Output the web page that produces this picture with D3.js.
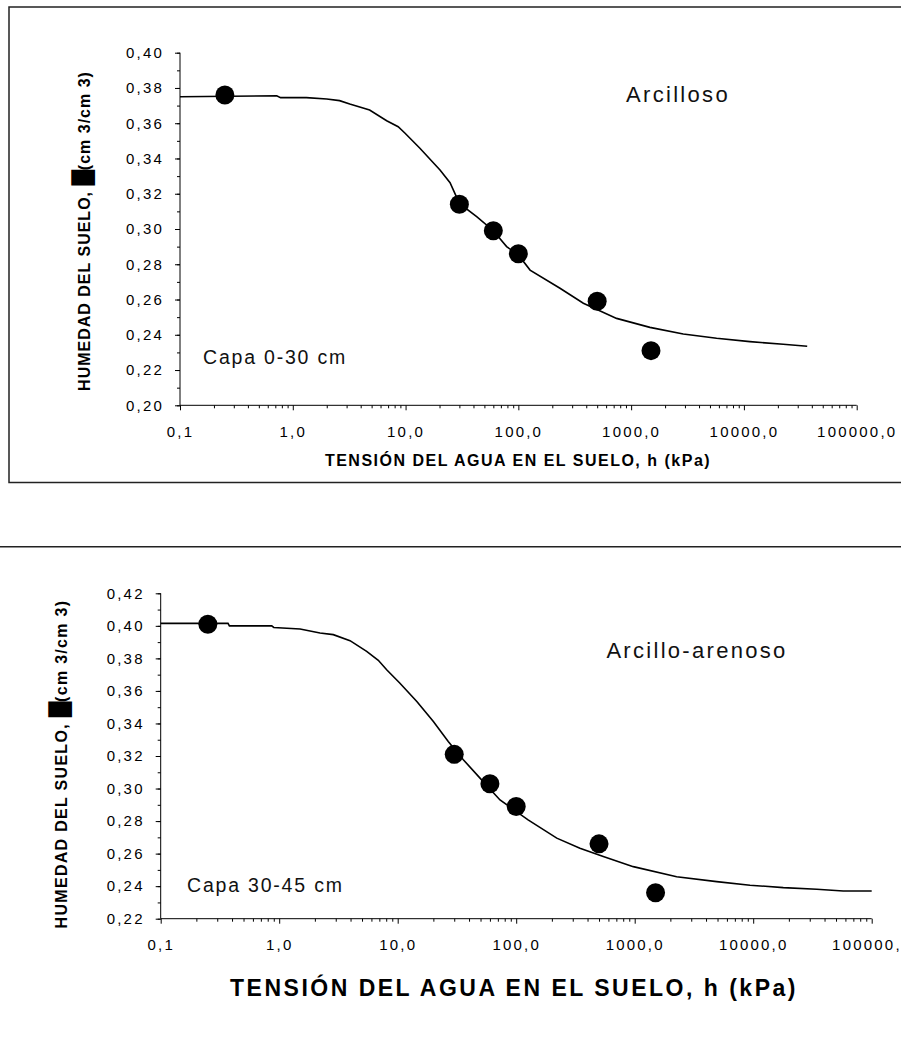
<!DOCTYPE html>
<html>
<head>
<meta charset="utf-8">
<script src="https://cdn.jsdelivr.net/npm/d3@7"></script>
<style>
  body { margin: 0; background: #fff; }
  svg { display: block; font-family: "Liberation Sans", Arial, sans-serif; }
</style>
</head>
<body>
<svg id="chart" width="901" height="1039"></svg>
<script>
// x ticks (kPa), shared by both panels
var xTicks = [0.1, 1, 10, 100, 1000, 10000, 100000];
var xTickLabels = ['0,1', '1,0', '10,0', '100,0', '1000,0', '10000,0', '100000,0'];

// top panel: Arcilloso, capa 0-30 cm
var topYTicks = [0.20, 0.22, 0.24, 0.26, 0.28, 0.30, 0.32, 0.34, 0.36, 0.38, 0.40];
var topPointsH = [0.25, 30, 60, 100, 500, 1500];
var topPointsTheta = [0.376, 0.314, 0.299, 0.286, 0.259, 0.231];
var topCurveH = [0.1, 0.72, 0.78, 1.32, 2.0, 2.6, 3.2, 4.8, 6.8, 8.6, 9.9, 13.4, 20.2, 24.8, 30, 42.7, 60, 78.7, 100, 127, 234, 377, 743, 1468, 2897, 5724, 11300, 22300, 36400];
var topCurveTheta = [0.375, 0.3756, 0.3745, 0.3745, 0.3737, 0.3728, 0.3709, 0.3675, 0.3614, 0.358, 0.3543, 0.3458, 0.3335, 0.3263, 0.3145, 0.307, 0.299, 0.290, 0.2853, 0.2767, 0.2664, 0.2579, 0.2493, 0.2442, 0.2404, 0.238, 0.2361, 0.2346, 0.2335];

// bottom panel: Arcillo-arenoso, capa 30-45 cm
var botYTicks = [0.22, 0.24, 0.26, 0.28, 0.30, 0.32, 0.34, 0.36, 0.38, 0.40, 0.42];
var botPointsH = [0.25, 30, 60, 100, 500, 1500];
var botPointsTheta = [0.401, 0.321, 0.303, 0.289, 0.266, 0.236];
var botCurveH = [0.1, 0.37, 0.38, 0.865, 0.9, 1.5, 2.21, 2.86, 3.96, 5.47, 6.86, 8.07, 10.4, 14.5, 20, 26.7, 35.8, 49.5, 73, 126, 220, 345, 543, 973, 2260, 4920, 9400, 17950, 34400, 57500, 100000];
var botCurveTheta = [0.4015, 0.4015, 0.400, 0.400, 0.399, 0.3981, 0.3956, 0.3946, 0.3909, 0.3843, 0.3788, 0.373, 0.3649, 0.3535, 0.3412, 0.3289, 0.3177, 0.3064, 0.293, 0.2807, 0.2695, 0.2633, 0.2582, 0.252, 0.2458, 0.2428, 0.2406, 0.2391, 0.2381, 0.237, 0.237];

var svg = d3.select('#chart');
var comma = function(v) { return d3.format('.2f')(v).replace('.', ','); };

// frames
svg.append('rect')
  .attr('x', 9).attr('y', 7)
  .attr('width', 1000).attr('height', 475.5)
  .attr('fill', 'none')
  .attr('stroke', '#222')
  .attr('stroke-width', 1.5);

svg.append('line')
  .attr('x1', 0).attr('x2', 901)
  .attr('y1', 546.7).attr('y2', 546.7)
  .attr('stroke', '#222')
  .attr('stroke-width', 1.5);

function drawPanel(p) {
  var x = d3.scaleLog().domain([0.1, 100000]).range([p.left, p.right]);
  var y = d3.scaleLinear().domain(p.yDomain).range([p.bottom, p.top]);
  var g = svg.append('g');

  // y axis
  var minorY = d3.range(Math.round(p.yDomain[0] * 100), Math.round(p.yDomain[1] * 100) + 1).map(d => d / 100);
  g.append('g')
    .attr('transform', 'translate(' + p.left + ',0)')
    .call(d3.axisLeft(y).tickValues(minorY).tickSize(3).tickFormat(''))
    .call(a => a.select('.domain').remove());
  var ya = g.append('g')
    .attr('transform', 'translate(' + p.left + ',0)')
    .call(d3.axisLeft(y).tickValues(p.yTicks).tickSize(5).tickPadding(11).tickFormat(comma));
  ya.select('.domain').attr('d', 'M0,' + p.bottom + 'V' + p.top);
  ya.selectAll('text')
    .attr('font-size', 15)
    .attr('letter-spacing', 2.2)
    .attr('font-family', '"Liberation Sans", Arial, sans-serif');

  // x axis
  var minorX = [];
  xTicks.slice(0, -1).forEach(function(t) {
    for (var k = 2; k <= 9; k++) minorX.push(t * k);
  });
  g.append('g')
    .attr('transform', 'translate(0,' + p.bottom + ')')
    .call(d3.axisBottom(x).tickValues(minorX).tickSize(3).tickFormat(''))
    .call(a => a.select('.domain').remove());
  var xa = g.append('g')
    .attr('transform', 'translate(0,' + p.bottom + ')')
    .call(d3.axisBottom(x).tickValues(xTicks).tickSize(5).tickPadding(16)
      .tickFormat((d, i) => xTickLabels[i]));
  xa.select('.domain').attr('d', 'M' + p.left + ',0H' + p.right);
  xa.selectAll('text')
    .attr('font-size', 15)
    .attr('letter-spacing', 2.2)
    .attr('font-family', '"Liberation Sans", Arial, sans-serif');

  g.selectAll('.tick line').attr('stroke', '#000');
  g.selectAll('.domain').attr('stroke', '#000');

  // fitted curve
  var curve = p.curveH.map((h, i) => [h, p.curveTheta[i]]);
  g.append('path')
    .datum(curve)
    .attr('fill', 'none')
    .attr('stroke', '#000')
    .attr('stroke-width', 1.6)
    .attr('d', d3.line().x(d => x(d[0])).y(d => y(d[1])));

  // measured points
  g.selectAll('circle.pt')
    .data(p.pointsH.map((h, i) => [h, p.pointsTheta[i]]))
    .enter()
    .append('circle')
    .attr('class', 'pt')
    .attr('cx', d => x(d[0]))
    .attr('cy', d => y(d[1]))
    .attr('r', 9.5)
    .attr('fill', '#000');

  // labels
  g.append('text')
    .attr('x', p.soilX).attr('y', p.soilY)
    .attr('text-anchor', 'middle')
    .attr('font-size', 22)
    .attr('letter-spacing', 2.3)
    .attr('fill', '#111')
    .text(p.soil);

  g.append('text')
    .attr('x', p.layerX).attr('y', p.layerY)
    .attr('font-size', 19.5)
    .attr('letter-spacing', 1.8)
    .attr('fill', '#111')
    .text(p.layer);

  g.append('text')
    .attr('x', p.xTitleX).attr('y', p.xTitleY)
    .attr('text-anchor', 'middle')
    .attr('font-size', p.xTitleSize)
    .attr('font-weight', 'bold')
    .attr('letter-spacing', p.xTitleSpacing)
    .text('TENSIÓN DEL AGUA EN EL SUELO, h (kPa)');

  var yt = g.append('text')
    .attr('transform', 'translate(' + p.yTitleX + ',' + p.yTitleY + ') rotate(-90)')
    .attr('text-anchor', 'middle')
    .attr('dy', '0.36em')
    .attr('font-size', 16)
    .attr('font-weight', 'bold')
    .attr('letter-spacing', p.yTitleSpacing);
  yt.append('tspan').text('HUMEDAD DEL SUELO, ');
  yt.append('tspan').attr('font-family', '"DejaVu Sans"').attr('font-size', 20).attr('letter-spacing', 0).text('█');
  yt.append('tspan').text('(cm 3/cm 3)');
}

drawPanel({
  left: 180, right: 856.7, top: 52.7, bottom: 405.3,
  yDomain: [0.20, 0.40], yTicks: topYTicks,
  pointsH: topPointsH, pointsTheta: topPointsTheta,
  curveH: topCurveH, curveTheta: topCurveTheta,
  soil: 'Arcilloso', soilX: 678, soilY: 101.5,
  layer: 'Capa 0-30 cm', layerX: 203, layerY: 364,
  xTitleX: 518, xTitleY: 466, xTitleSize: 16, xTitleSpacing: 1.5,
  yTitleX: 84, yTitleY: 231, yTitleSpacing: 1
});

drawPanel({
  left: 160.7, right: 871.7, top: 593.3, bottom: 918.7,
  yDomain: [0.22, 0.42], yTicks: botYTicks,
  pointsH: botPointsH, pointsTheta: botPointsTheta,
  curveH: botCurveH, curveTheta: botCurveTheta,
  soil: 'Arcillo-arenoso', soilX: 697, soilY: 658.3,
  layer: 'Capa 30-45 cm', layerX: 187, layerY: 891.7,
  xTitleX: 514, xTitleY: 996, xTitleSize: 23, xTitleSpacing: 2.5,
  yTitleX: 61, yTitleY: 764, yTitleSpacing: 1.3
});
</script>
</body>
</html>
